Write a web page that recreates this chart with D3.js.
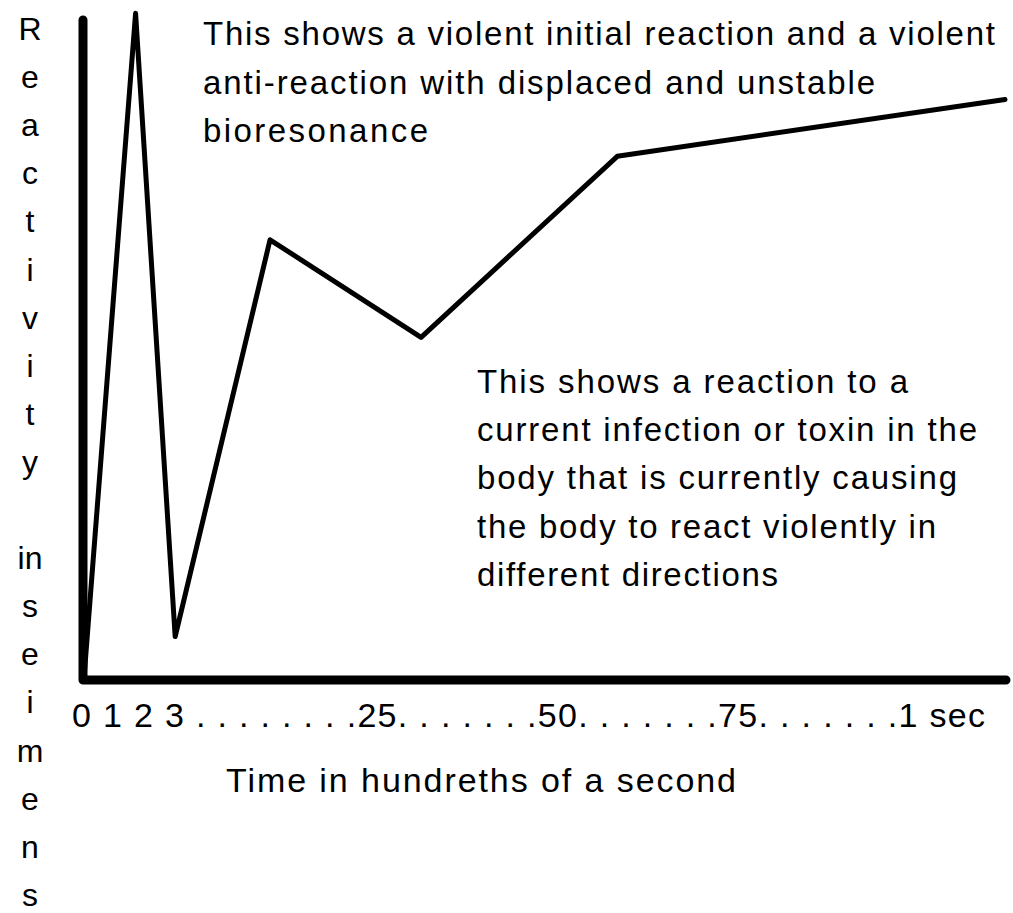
<!DOCTYPE html>
<html><head><meta charset="utf-8">
<script src="https://cdn.jsdelivr.net/npm/d3@7"></script>
<style>html,body{margin:0;padding:0;background:#fff;}svg{display:block;}</style>
</head><body>
<script>
// ---- data ----
const times = [0, 5.6, 9.9, 20.2, 36.6, 57.9, 100];          // hundredths of a second (plot units)
const reactivity = [0, 99.5, 6.2, 65.6, 51.0, 78.1, 86.6];   // relative reactivity
const xTickTokens = ["0","1","2","3",".",".",".",".",".",".",".",".",".25.",".",".",".",".",".",".50.",".",".",".",".",".",".75.",".",".",".",".",".",".1","sec"];
const yLabelLines = ["R","e","a","c","t","i","v","i","t","y","","in","s","e","i","m","e","n","s"];
const xTitle = "Time in hundreths of a second";
const noteTop = ["This shows a violent initial reaction and a violent","anti-reaction with displaced and unstable","bioresonance"];
const noteBottom = ["This shows a reaction to a","current infection or toxin in the","body that is currently causing","the body to react violently in","different directions"];

// ---- layout ----
const W = 1013, H = 913;
const svg = d3.select("body").append("svg").attr("width", W).attr("height", H);
const font = "'Liberation Sans', Arial, sans-serif";

const x = d3.scaleLinear().domain([0, 100]).range([84, 1005]);
const y = d3.scaleLinear().domain([0, 100]).range([678, 10]);

// axes (thick L)
svg.append("path")
  .attr("d", `M${x(0)-1},20 L${x(0)-1},680 L1006,680`)
  .attr("fill", "none").attr("stroke", "#000").attr("stroke-width", 9)
  .attr("stroke-linecap", "round").attr("stroke-linejoin", "round");

// data line
const pts = times.map((t, i) => [t, reactivity[i]]);
svg.append("path")
  .datum(pts)
  .attr("d", d3.line().x(d => x(d[0])).y(d => y(d[1])))
  .attr("fill", "none").attr("stroke", "#000").attr("stroke-width", 5)
  .attr("stroke-linejoin", "round").attr("stroke-linecap", "round");

// x tick text row
svg.append("text")
  .attr("x", 72).attr("y", 727)
  .attr("font-family", font).attr("font-size", 34)
  .attr("textLength", 913).attr("lengthAdjust", "spacing")
  .text(xTickTokens.join(" ").replace(". .25", " .25"));

// x title
svg.append("text")
  .attr("x", 226).attr("y", 792)
  .attr("font-family", font).attr("font-size", 34)
  .attr("textLength", 510).attr("lengthAdjust", "spacing")
  .text(xTitle);

// y label: stacked letters
svg.append("g").selectAll("text").data(yLabelLines).join("text")
  .attr("x", 30).attr("y", (d, i) => 40 + i * 48.1)
  .attr("text-anchor", "middle")
  .attr("font-family", font).attr("font-size", 32)
  .text(d => d);

// annotations
const topW = [792, 672, 225];
svg.append("g").selectAll("text").data(noteTop).join("text")
  .attr("x", 203).attr("y", (d, i) => 45 + i * 48.5)
  .attr("font-family", font).attr("font-size", 33)
  .attr("textLength", (d, i) => topW[i]).attr("lengthAdjust", "spacing")
  .text(d => d);

const botW = [431, 500, 480, 459, 301];
svg.append("g").selectAll("text").data(noteBottom).join("text")
  .attr("x", 477).attr("y", (d, i) => 393 + i * 48.2)
  .attr("font-family", font).attr("font-size", 33)
  .attr("textLength", (d, i) => botW[i]).attr("lengthAdjust", "spacing")
  .text(d => d);
</script>
</body></html>
